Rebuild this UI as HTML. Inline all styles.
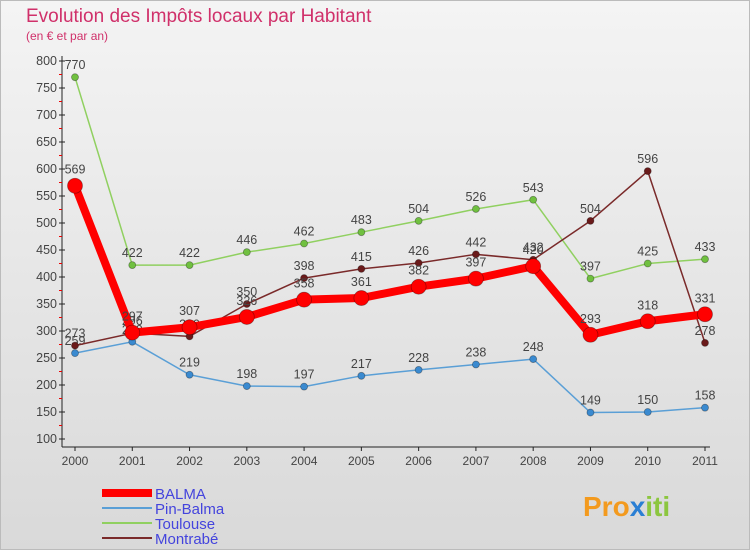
<!DOCTYPE html>
<html><head><meta charset="utf-8"><style>
body{margin:0;width:750px;height:550px;overflow:hidden;font-family:"Liberation Sans",sans-serif}
</style></head><body>
<svg width="750" height="550" xmlns="http://www.w3.org/2000/svg" font-family="Liberation Sans, sans-serif">
<defs><linearGradient id="bg" x1="0" y1="0" x2="0" y2="1"><stop offset="0" stop-color="#f4f4f4"/><stop offset="1" stop-color="#d9d9d9"/></linearGradient></defs>
<rect x="0.5" y="0.5" width="749" height="549" fill="url(#bg)" stroke="#bbb"/>
<text x="26" y="22" font-size="19" fill="#d0306a">Evolution des Impôts locaux par Habitant</text>
<text x="26" y="40" font-size="12" fill="#d0306a">(en € et par an)</text>
<g id="axes"></g><g id="series"></g><g id="legend"></g>
<text x="583" y="516" font-size="28" font-weight="bold" fill="#f39a1e">Pro<tspan fill="#2a7fd4">x</tspan><tspan fill="#8cc63f">iti</tspan></text>
</svg>
<script>
const years=[2000,2001,2002,2003,2004,2005,2006,2007,2008,2009,2010,2011];
const balma=[569,297,307,326,358,361,382,397,420,293,318,331];
const pinBalma=[259,280,219,198,197,217,228,238,248,149,150,158];
const toulouse=[770,422,422,446,462,483,504,526,543,397,425,433];
const montrabe=[273,296,290,350,398,415,426,442,432,504,596,278];
const yTicks=[100,150,200,250,300,350,400,450,500,550,600,650,700,750,800];
const NS="http://www.w3.org/2000/svg";
const X=i=>75+i*(630/11), Y=v=>439-(v-100)*(378/700);
function mk(t,a,p){const e=document.createElementNS(NS,t);for(const k in a)e.setAttribute(k,a[k]);p.appendChild(e);return e;}
const ax=document.getElementById('axes');
const yl=mk('line',{x1:62,y1:56,x2:62,y2:447,stroke:'#222'},ax);


const xl=mk('line',{x1:62,y1:447,x2:710,y2:447,stroke:'#222'},ax);


yTicks.forEach((v,i)=>{
  mk('line',{x1:59,y1:Y(v),x2:65,y2:Y(v),stroke:'#222'},ax);
  if(i<yTicks.length-1)mk('line',{x1:59,y1:Y(v+25),x2:62,y2:Y(v+25),stroke:'#e00'},ax);
  const t=mk('text',{x:57,y:Y(v)+4,'font-size':12.5,'text-anchor':'end',fill:'#444'},ax);t.textContent=v;
  
  
});
years.forEach((y,i)=>{
  mk('line',{x1:X(i),y1:447,x2:X(i),y2:451,stroke:'#222'},ax);
  const t=mk('text',{x:X(i),y:465,'font-size':12,'text-anchor':'middle',fill:'#444'},ax);t.textContent=y;
  
  
});
const sg=document.getElementById('series');
const defs=[
 {d:pinBalma,c:'#5a9fd6',w:1.5,r:3.5,f:'#3a8ad0',n:'pin-balma'},
 {d:toulouse,c:'#90d060',w:1.5,r:3.5,f:'#70c040',n:'toulouse'},
 {d:montrabe,c:'#7a2a2a',w:1.5,r:3.5,f:'#6a1a1a',n:'montrabe'},
 {d:balma,c:'#ff0000',w:8,r:7.5,f:'#ff0000',n:'balma'}];
defs.forEach(s=>{
  const g=mk('g',{},sg);
  
  
  const pl=mk('polyline',{points:s.d.map((v,i)=>X(i)+','+Y(v)).join(' '),fill:'none',stroke:s.c,'stroke-width':s.w,'stroke-linejoin':'round'},g);
  
  
  s.d.forEach((v,i)=>{
    const p=mk('circle',{cx:X(i),cy:Y(v),r:s.r,fill:s.f,stroke:'rgba(0,0,0,0.35)','stroke-width':0.8},g);
    
    
    const t=mk('text',{x:X(i),y:Y(v)-8-(s.w>2?4:0),'font-size':12.5,'text-anchor':'middle',fill:'#444'},g);t.textContent=v;
    
    
  });
});
const lg=document.getElementById('legend');
[['BALMA','#ff0000',8],['Pin-Balma','#5a9fd6',2],['Toulouse','#90d060',2],['Montrabé','#7a2a2a',2]].forEach((e,i)=>{
  const y=493+i*15;
  const g=mk('g',{},lg);
  
  
  mk('line',{x1:102,y1:y,x2:152,y2:y,stroke:e[1],'stroke-width':e[2]},g);
  const t=mk('text',{x:155,y:y+6,'font-size':15,fill:'#4444dd'},g);t.textContent=e[0];
});
</script>
</body></html>
